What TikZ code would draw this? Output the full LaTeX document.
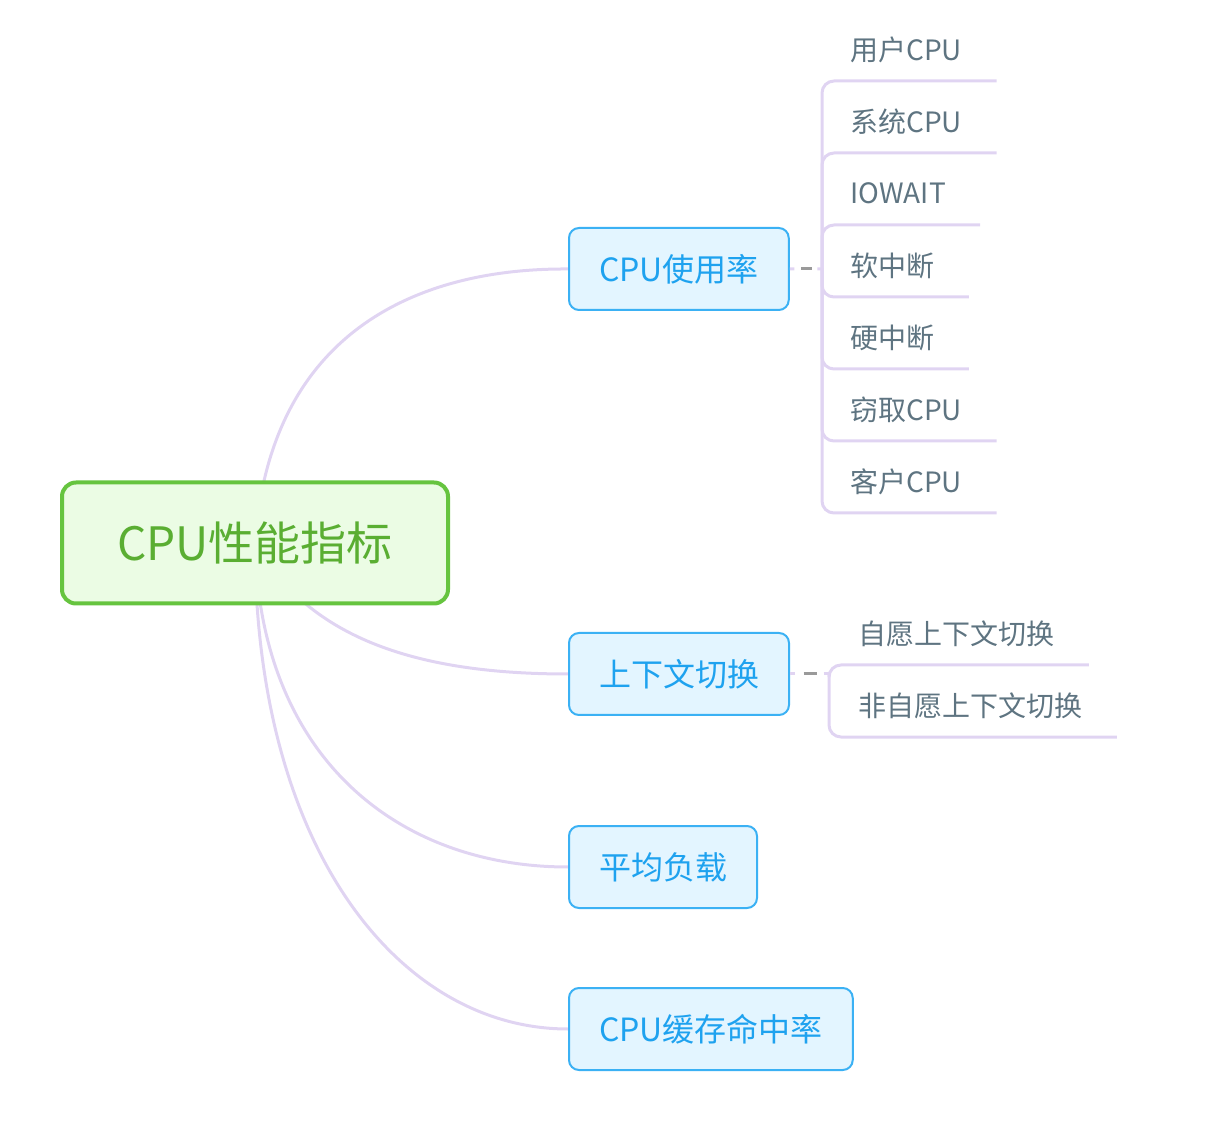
\documentclass[tikz,border=0pt]{standalone}
\usepackage{fontspec}
\setmainfont{Noto Sans CJK SC}
\usepackage{xcolor}
\usetikzlibrary{calc}
\usetikzlibrary{positioning,backgrounds}
\definecolor{rootgreen}{HTML}{66C43F}
\definecolor{rootfill}{HTML}{EBFCE4}
\definecolor{roottext}{HTML}{5AAE32}
\definecolor{topicblue}{HTML}{3BB1F4}
\definecolor{topicfill}{HTML}{E3F5FF}
\definecolor{topictext}{HTML}{1EA2EF}
\definecolor{lilac}{HTML}{E0D4F2}
\definecolor{leaftext}{HTML}{5E7481}
\definecolor{tiegray}{HTML}{9A9A9A}

\begin{document}
\begin{tikzpicture}[x=0.5pt,y=-0.5pt,
rootbox/.style={draw=rootgreen,fill=rootfill,line width=2pt,rounded corners=7pt,
  text=roottext,font=\fontsize{23}{23}\selectfont,minimum width=193pt,minimum height=60.5pt},
topic/.style={draw=topicblue,fill=topicfill,line width=1pt,rounded corners=5pt,
  text=topictext,font=\fontsize{16}{16}\selectfont,inner xsep=15pt,minimum height=41pt,anchor=west},
leaf/.style={text=leaftext,font=\fontsize{14}{14}\selectfont,inner xsep=0pt,minimum height=31pt,anchor=south west},
branch/.style={draw=lilac,line width=1.5pt},
leafline/.style={draw=lilac,line width=1.5pt,rounded corners=6pt},
tie/.style={draw=tiegray,line width=1.5pt}]
\useasboundingbox (0,0) rectangle (1206,1128);

\node[rootbox] (root) at (255,543) {CPU性能指标};
\node[topic] (usage) at (568,269) {CPU使用率};
\node[topic] (ctx) at (568,674) {上下文切换};
\node[topic] (load) at (568,867) {平均负载};
\node[topic] (cache) at (568,1029) {CPU缓存命中率};

\begin{scope}[on background layer]
\draw[branch] (root.center) .. controls (270,330) and (420,268) .. (usage.west);
\draw[branch] (root.center) .. controls (310,640) and (420,674) .. (ctx.west);
\draw[branch] (root.center) .. controls (260,760) and (400,867) .. (load.west);
\draw[branch] (root.center) .. controls (255,850) and (400,1029) .. (cache.west);
\end{scope}

% CPU使用率
\coordinate (j1) at (822,269);
\draw[branch] (usage.east) -- ($(usage.east)!0.14!(j1)$);
\draw[tie] ($(usage.east)!0.35!(j1)$) -- ($(usage.east)!0.68!(j1)$);
\draw[branch] ($(usage.east)!0.86!(j1)$) -- (j1);
\foreach \txt/\uy [count=\i] in {用户CPU/81,系统CPU/153,IOWAIT/225,软中断/297,硬中断/369,窃取CPU/441,客户CPU/513}{
  \node[leaf] (u\i) at (850,\uy) {\txt};
  \draw[leafline] (j1) |- ([xshift=17pt]u\i.south east);
}

% 上下文切换
\coordinate (j2) at (829,674);
\draw[branch] (ctx.east) -- ($(ctx.east)!0.14!(j2)$);
\draw[tie] ($(ctx.east)!0.35!(j2)$) -- ($(ctx.east)!0.68!(j2)$);
\draw[branch] ($(ctx.east)!0.86!(j2)$) -- (j2);
\foreach \txt/\uy [count=\i] in {自愿上下文切换/665,非自愿上下文切换/737}{
  \node[leaf] (c\i) at (858,\uy) {\txt};
  \draw[leafline] (j2) |- ([xshift=17pt]c\i.south east);
}
\end{tikzpicture}
\end{document}
